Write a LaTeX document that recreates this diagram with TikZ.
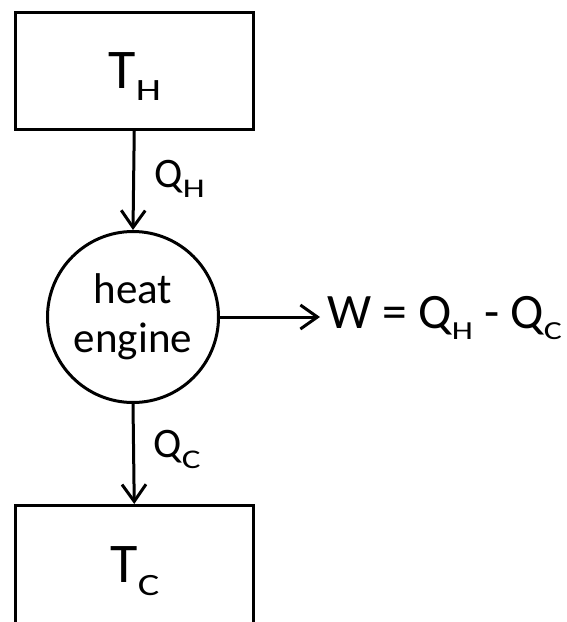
\documentclass[tikz,border=0pt]{standalone}
\usepackage{fontspec}
\setmainfont{Carlito}
\usetikzlibrary{arrows.meta}
\newcommand\lowsub[3]{\raisebox{-#2}{\scalebox{1.3}[1]{\fontsize{#1}{#1}\selectfont #3}}}
\begin{document}
\begin{tikzpicture}[x=1pt,y=-1pt, line width=3pt,
  box/.style={draw, rectangle, inner sep=0pt, anchor=north west},
  flow/.style={-{Straight Barb[length=17pt,width=24pt]}},
  lbl/.style={inner sep=0pt, anchor=base west}]
\useasboundingbox (0,0) rectangle (566,622);
\clip (0,0) rectangle (566,622);
\node[box, minimum width=238.5pt, minimum height=117pt] (hot) at (13.5,11) {};
\node[box, minimum width=238.5pt, minimum height=140pt] (cold) at (13.5,504) {};
\node[draw, circle, minimum size=171pt, inner sep=0pt, align=center,
      font=\fontsize{43}{49}\selectfont] (eng) at (133,317) {heat\\engine};
\node[lbl, font=\fontsize{56}{56}\selectfont] (th) at (107,88) {T\lowsub{31pt}{12pt}{H}};
\node[lbl, font=\fontsize{56}{56}\selectfont] (tc) at (109,582) {T\lowsub{31pt}{13pt}{C}};
\node[lbl, font=\fontsize{42}{42}\selectfont] (qh) at (153,187) {Q\lowsub{27pt}{10pt}{H}};
\node[lbl, font=\fontsize{42}{42}\selectfont] (qc) at (152,457) {Q\lowsub{27pt}{11pt}{C}};
\node[lbl, font=\fontsize{49.5}{49.5}\selectfont] (w) at (326,328) {W = Q\lowsub{26pt}{11pt}{H} - Q\lowsub{26pt}{11pt}{C}};
\draw[flow] (hot.south) -- (eng.north);
\draw[flow] (eng.south) -- (cold.north);
\draw[flow, shorten >=6pt] (eng.east) -- (eng.east -| w.west);
\end{tikzpicture}
\end{document}
